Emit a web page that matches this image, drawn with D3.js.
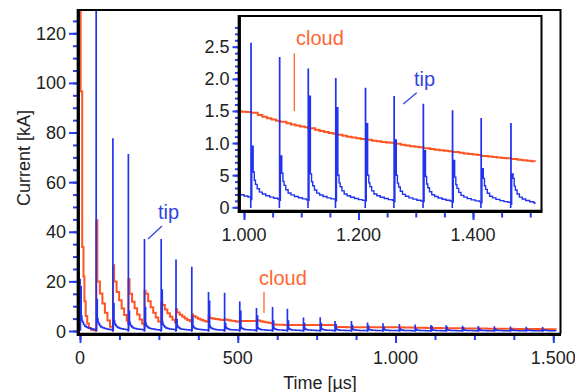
<!DOCTYPE html>
<html>
<head>
<meta charset="utf-8">
<script src="https://cdn.jsdelivr.net/npm/d3@7"></script>
<style>
  body { margin: 0; background: #fff; }
  text { font-family: "Liberation Sans", Arial, sans-serif; fill: #222; }
</style>
</head>
<body>
<svg id="chart" width="575" height="392"></svg>
<script>
// tip current pulses (kA), one entry per pulse, times in µs
const pulseTimes  = [0, 51, 104, 153, 204, 257, 304, 354, 407, 458, 506, 559, 610, 657, 708, 761, 808, 860, 911, 960, 1012, 1062, 1112, 1160, 1212, 1262, 1313, 1364, 1414, 1466];
const tipPeaks    = [20.8, 150, 77.4, 71, 36.8, 36.8, 28.5, 25.6, 15.4, 15.1, 11.6, 9, 9.4, 8.7, 5.1, 5.2, 3.7, 3.7, 3.1, 2.8, 2.55, 2.33, 2.15, 2.0, 1.85, 1.72, 1.6, 1.5, 1.38, 1.3];
const tipSeconds  = [17.8, 12.7, 11, 8, 9.5, 16.5, 4.5, 5.5, 12, 3, 8, 6, 4, 4, 3, 3, 2.5, 2.2, 2.0, 1.5, 0.95, 0.8, 1.73, 1.55, 1.3, 1.05, 0.88, 0.73, 0.6, 0.52];
const tipTails    = [6, 5, 4, 3.5, 3, 3.5, 2.2, 2, 2, 1.5, 1.5, 1.3, 1.2, 1.1, 1, 0.9, 0.8, 0.75, 0.7, 0.65, 0.55, 0.53, 0.52, 0.5, 0.5, 0.5, 0.48, 0.47, 0.45, 0.45];
const tipFloors   = [0.4, 0.4, 0.4, 0.4, 0.4, 0.4, 0.35, 0.35, 0.3, 0.3, 0.3, 0.25, 0.25, 0.2, 0.2, 0.2, 0.18, 0.17, 0.16, 0.15, 0.12, 0.11, 0.11, 0.1, 0.1, 0.09, 0.09, 0.08, 0.07, 0.05];
// decay of a tip pulse after the spike (µs after spike, share of the tail left)
const tipTailT = [4, 6, 8, 11, 15, 20, 26, 33, 40, 47];
const tipTailF = [1, 0.7, 0.55, 0.39, 0.27, 0.2, 0.14, 0.09, 0.05, 0.02];

// cloud current: first stroke, then one jump per tip pulse (pulses 1..29)
const cloudHeadT = [0, 2, 7, 11, 14, 18, 23, 28, 35, 42];
const cloudHeadV = [250, 96.5, 33.9, 22, 12, 6, 3, 1.2, 0.5, 0.3];
const cloudPeaks     = [44.6, 26.5, 21, 16.2, 11.4, 8.8, 6.8, 6.1, 4.7, 4.0, 4.4, 2.6, 2.4, 2.4, 2.4, 1.6, 1.55, 1.55, 1.52, 1.47, 1.33, 1.23, 1.13, 1.05, 0.99, 0.92, 0.86, 0.8, 0.75];
const cloudShoulders = [20, 20, 15, 15, 10.5, 7.5, 6, 5.2, 4.5, 4.0, 4.2, 2.6, 2.4, 2.4, 2.4, 1.6, 1.55, 1.55, 1.52, 1.47, 1.33, 1.23, 1.13, 1.05, 0.99, 0.92, 0.86, 0.8, 0.75];
const cloudEnds      = [0.3, 3, 2, 3, 3, 3.7, 3.7, 4.4, 3.7, 4.0, 3.1, 2.4, 2.4, 2.4, 2.4, 1.55, 1.55, 1.52, 1.48, 1.34, 1.24, 1.14, 1.06, 1.0, 0.93, 0.87, 0.81, 0.76, 0.71];
const cloudDecayT = [4, 12, 20, 28, 36, 44];
const cloudDecayF = [1, 0.75, 0.55, 0.36, 0.2, 0.07];
const endTime = 1508;

// ticks and labels
const mainXMajor = [0, 500, 1000, 1500];
const mainXLabels = ["0", "500", "1.000", "1.500"];
const mainYMajor = [0, 20, 40, 60, 80, 100, 120];
const mainYLabels = ["0", "20", "40", "60", "80", "100", "120"];
const insetXMajor = [1000, 1200, 1400];
const insetXLabels = ["1.000", "1.200", "1.400"];
const insetYMajor = [0, 0.5, 1.0, 1.5, 2.0, 2.5];
const insetYLabels = ["0", "5", "1.0", "1.5", "2.0", "2.5"];

const BLUE = '#2233ee';
const TICK_BLUE = '#2a3cf0';
const ORANGE = '#ff5522';

function buildTip() {
  let pts = [];
  pulseTimes.forEach((t0, k) => {
    let next = k < pulseTimes.length - 1 ? pulseTimes[k + 1] : endTime;
    if (k > 0) pts.push([t0 - 0.4, 0]);
    pts.push([t0, tipPeaks[k]]);
    // back down, then the second, smaller peak just after the spike
    pts.push([t0 + 0.6, tipFloors[k]]);
    pts.push([t0 + 1.6, tipSeconds[k]]);
    tipTailT.forEach((tau, j) => {
      if (t0 + tau < next - 0.6) {
        pts.push([t0 + tau, tipFloors[k] + (tipTails[k] - tipFloors[k]) * tipTailF[j]]);
      }
    });
  });
  pts.push([endTime, tipFloors[tipFloors.length - 1]]);
  return pts;
}

function buildCloud() {
  let pts = cloudHeadT.map((t, i) => [t, cloudHeadV[i]]);
  let prevEnd = cloudHeadV[cloudHeadV.length - 1];
  pulseTimes.slice(1).forEach((t0, i) => {
    let next = i + 2 < pulseTimes.length ? pulseTimes[i + 2] : endTime;
    pts.push([t0, prevEnd]);
    pts.push([t0 + 0.8, cloudPeaks[i]]);
    cloudDecayT.forEach((tau, j) => {
      if (t0 + tau < next - 0.5) {
        pts.push([t0 + tau, cloudEnds[i] + (cloudShoulders[i] - cloudEnds[i]) * cloudDecayF[j]]);
      }
    });
    prevEnd = cloudEnds[i];
  });
  pts.push([endTime, prevEnd]);
  return pts;
}

const tipData = buildTip();
const cloudData = buildCloud();

const svg = d3.select('#chart');

// ---------- main plot ----------
const x = d3.scaleLinear().domain([0, 1500]).range([80, 553.3]);
const y = d3.scaleLinear().domain([0, 120]).range([331, 33.3]);

svg.append('clipPath').attr('id', 'clipMain')
  .append('rect').attr('x', 80).attr('y', 11).attr('width', 479).attr('height', 322);

// ticks (blue), drawn before the black axis lines
svg.append('g').attr('transform', 'translate(0,334)')
  .call(d3.axisBottom(x).tickValues(d3.range(0, 1501, 125)).tickSize(6).tickFormat(''));
svg.append('g').attr('transform', 'translate(0,334)')
  .call(d3.axisBottom(x).tickValues(mainXMajor).tickSize(9).tickFormat(''));
svg.append('g').attr('transform', 'translate(77,0)')
  .call(d3.axisLeft(y).tickValues(d3.range(0, 126, 5)).tickSize(4).tickFormat(''));
svg.append('g').attr('transform', 'translate(77,0)')
  .call(d3.axisLeft(y).tickValues(mainYMajor).tickSize(8).tickFormat(''));
svg.selectAll('.domain').remove();
svg.selectAll('.tick line').attr('stroke', TICK_BLUE).attr('stroke-width', 2);

const line = (sx, sy) => d3.line().curve(d3.curveStepAfter).x(d => sx(d[0])).y(d => sy(d[1]));

const mainG = svg.append('g').attr('clip-path', 'url(#clipMain)');
mainG.append('path').datum(cloudData)
  .attr('d', line(x, y)).attr('fill', 'none').attr('stroke', ORANGE).attr('stroke-width', 2);
mainG.append('path').datum(tipData)
  .attr('d', line(x, y)).attr('fill', 'none').attr('stroke', BLUE).attr('stroke-width', 1.5);

// frame
svg.append('path').attr('d', 'M78,10H560.5V334').attr('fill', 'none').attr('stroke', '#000').attr('stroke-width', 2);
svg.append('path').attr('d', 'M78.3,9V334.3H561').attr('fill', 'none').attr('stroke', '#000').attr('stroke-width', 3.3);

svg.append('g').selectAll('text').data(mainXMajor).enter().append('text')
  .attr('x', d => x(d)).attr('y', 364).attr('text-anchor', 'middle')
  .style('font-size', '18px').text((d, i) => mainXLabels[i]);
svg.append('g').selectAll('text').data(mainYMajor).enter().append('text')
  .attr('x', 66).attr('y', d => y(d) + 6.5).attr('text-anchor', 'end')
  .style('font-size', '18px').text((d, i) => mainYLabels[i]);

svg.append('text').attr('x', 320).attr('y', 389).attr('text-anchor', 'middle')
  .style('font-size', '18px').text('Time [µs]');
svg.append('text').attr('transform', 'translate(30,158) rotate(-90)').attr('text-anchor', 'middle')
  .style('font-size', '18px').text('Current [kA]');

// annotations in the main plot
svg.append('text').attr('x', 158).attr('y', 219).style('font-size', '20px').style('fill', '#3344dd').text('tip');
svg.append('line').attr('x1', 148).attr('y1', 239).attr('x2', 162).attr('y2', 226).attr('stroke', '#3344dd').attr('stroke-width', 1.3);
svg.append('text').attr('x', 259).attr('y', 285).style('font-size', '20px').style('fill', '#ff6633').text('cloud');
svg.append('line').attr('x1', 264).attr('y1', 291.7).attr('x2', 264).attr('y2', 313).attr('stroke', '#ff6633').attr('stroke-width', 1.3);

// ---------- inset ----------
const xi = d3.scaleLinear().domain([1000, 1400]).range([244, 473]);
const yi = d3.scaleLinear().domain([0, 2.5]).range([207.3, 46.7]);

svg.append('rect').attr('x', 200).attr('y', 12).attr('width', 358).attr('height', 236).attr('fill', '#fff');
svg.append('clipPath').attr('id', 'clipInset')
  .append('rect').attr('x', 240.5).attr('y', 17).attr('width', 300).attr('height', 192.5);

const insetTicks = svg.append('g');
insetTicks.append('g').attr('transform', 'translate(0,211)')
  .call(d3.axisBottom(xi).tickValues(d3.range(1000, 1501, 50)).tickSize(6.5).tickFormat(''));
insetTicks.append('g').attr('transform', 'translate(0,211)')
  .call(d3.axisBottom(xi).tickValues(insetXMajor).tickSize(9).tickFormat(''));
insetTicks.append('g').attr('transform', 'translate(238,0)')
  .call(d3.axisLeft(yi).tickValues(d3.range(0, 29).map(d => d / 10)).tickSize(3).tickFormat(''));
insetTicks.append('g').attr('transform', 'translate(238,0)')
  .call(d3.axisLeft(yi).tickValues(insetYMajor).tickSize(5.5).tickFormat(''));
insetTicks.selectAll('.domain').remove();
insetTicks.selectAll('.tick line').attr('stroke', TICK_BLUE).attr('stroke-width', 2);

const insetG = svg.append('g').attr('clip-path', 'url(#clipInset)');
insetG.append('path').datum(cloudData.filter(d => d[0] > 900))
  .attr('d', line(xi, yi)).attr('fill', 'none').attr('stroke', ORANGE).attr('stroke-width', 2);
insetG.append('path').datum(tipData.filter(d => d[0] > 900))
  .attr('d', line(xi, yi)).attr('fill', 'none').attr('stroke', BLUE).attr('stroke-width', 1.4);

svg.append('path').attr('d', 'M239,16H541.5V211').attr('fill', 'none').attr('stroke', '#000').attr('stroke-width', 2);
svg.append('path').attr('d', 'M239.3,15V211.3H542.5').attr('fill', 'none').attr('stroke', '#000').attr('stroke-width', 3.3);

svg.append('g').selectAll('text').data(insetXMajor).enter().append('text')
  .attr('x', d => xi(d)).attr('y', 241).attr('text-anchor', 'middle')
  .style('font-size', '18px').text((d, i) => insetXLabels[i]);
svg.append('g').selectAll('text').data(insetYMajor).enter().append('text')
  .attr('x', 229.5).attr('y', d => yi(d) + 6.5).attr('text-anchor', 'end')
  .style('font-size', '18px').text((d, i) => insetYLabels[i]);

svg.append('text').attr('x', 296).attr('y', 45).style('font-size', '20px').style('fill', '#ff6633').text('cloud');
svg.append('line').attr('x1', 294.3).attr('y1', 53.3).attr('x2', 294.3).attr('y2', 111).attr('stroke', '#ff6633').attr('stroke-width', 1.3);
svg.append('text').attr('x', 414).attr('y', 86).style('font-size', '20px').style('fill', '#3344dd').text('tip');
svg.append('line').attr('x1', 403.3).attr('y1', 104).attr('x2', 416.7).attr('y2', 92.7).attr('stroke', '#3344dd').attr('stroke-width', 1.3);
</script>
</body>
</html>
